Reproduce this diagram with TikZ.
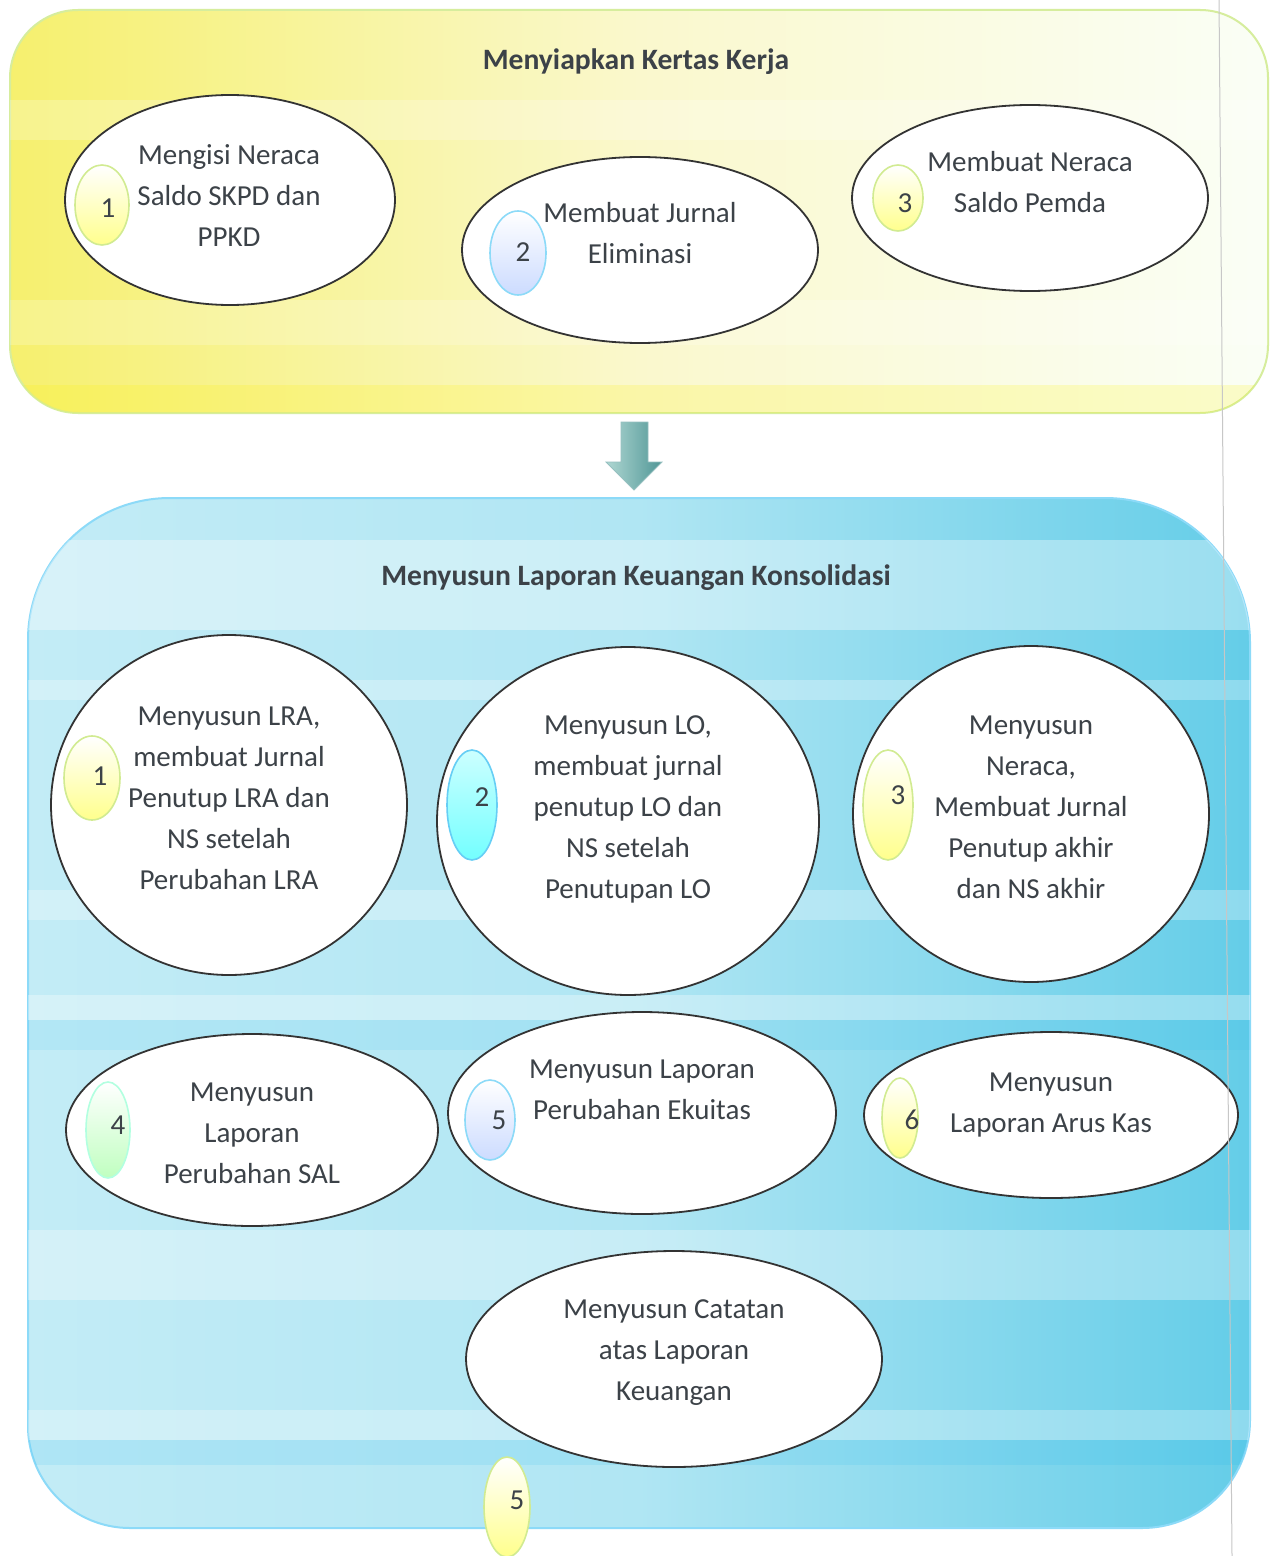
\documentclass[tikz,border=0pt]{standalone}
\usepackage{fontspec}
\setmainfont{Carlito}
\usetikzlibrary{shapes.geometric}
\definecolor{txt}{RGB}{60,66,72}
\definecolor{ylw}{RGB}{246,240,110}
\definecolor{ylwlight}{RGB}{250,248,205}
\definecolor{cyn}{RGB}{100,205,232}
\definecolor{cynlight}{RGB}{195,236,246}
\definecolor{arrowA}{RGB}{175,215,210}
\definecolor{arrowB}{RGB}{80,150,150}
\begin{document}
\begin{tikzpicture}[x=0.5pt,y=-0.5pt,
  every node/.style={text=txt},
  box/.style={ellipse, draw=black!80, line width=0.9pt, fill=white, inner sep=0pt},
  lbl/.style={align=center, font=\fontsize{14.5}{20.5}\selectfont},
  ttl/.style={font=\fontsize{14.8}{17}\selectfont\bfseries},
  num/.style={font=\fontsize{14.5}{17}\selectfont},
  badgeY/.style={ellipse, inner sep=0pt, draw=yellow!60!green!45, line width=0.8pt, top color=white, bottom color=yellow!45},
  badgeB/.style={ellipse, inner sep=0pt, draw=cyan!45, line width=0.8pt, top color=white, bottom color=cyan!30!blue!20},
  badgeC/.style={ellipse, inner sep=0pt, draw=cyan!60, line width=0.8pt, top color=cyan!20, bottom color=cyan!55},
  badgeG/.style={ellipse, inner sep=0pt, draw=green!40!cyan!30, line width=0.8pt, top color=white, bottom color=green!25}
]
\useasboundingbox (0,0) rectangle (1277,1556);
\fill[white] (0,0) rectangle (1277,1556);

% ---------- top panel ----------
\path[draw=yellow!60!green!40, line width=1pt, rounded corners=34pt,
      left color=ylw, right color=ylwlight!80!green!10, middle color=ylwlight]
  (10,10) rectangle (1268,413);
\begin{scope}
  \clip[rounded corners=34pt] (10,10) rectangle (1268,413);
  \fill[white, opacity=0.22] (10,100) rectangle (1268,140);
  \fill[white, opacity=0.20] (10,300) rectangle (1268,345);
  \fill[yellow, opacity=0.18] (10,385) rectangle (1268,413);
\end{scope}
\node[ttl] (toptitle) at (636,62) {Menyiapkan Kertas Kerja};

\node[box, minimum width=165pt, minimum height=105pt] (t1) at (230,200) {};
\node[box, minimum width=178pt, minimum height=93pt] (t2) at (640,250) {};
\node[box, minimum width=178pt, minimum height=93pt] (t3) at (1030,198) {};

\node[lbl] (t1l) at (229,196) {Mengisi Neraca\\Saldo SKPD dan\\PPKD};
\node[lbl] (t2l) at (640,233) {Membuat Jurnal\\Eliminasi};
\node[lbl] (t3l) at (1030,182) {Membuat Neraca\\Saldo Pemda};

\node[badgeY, minimum width=27pt, minimum height=40pt] (tb1) at (102,205) {};
\node[num] (tn1) at (108,208) {1};
\node[badgeB, minimum width=28pt, minimum height=42pt] (tb2) at (518,253) {};
\node[num] (tn2) at (523,252) {2};
\node[badgeY, minimum width=25pt, minimum height=33pt] (tb3) at (898,198) {};
\node[num] (tn3) at (905,203) {3};

% ---------- arrow ----------
\path[left color=arrowA, right color=arrowB, draw=arrowB!60, line width=0.4pt]
  (621,422) -- (648,422) -- (648,462) -- (662,462) -- (634,490) -- (606,462) -- (621,462) -- cycle;

% ---------- bottom panel ----------
\def\panelpath{(28,640) arc[start angle=180, end angle=270, x radius=142, y radius=142]
  -- (1105,498) arc[start angle=-90, end angle=0, x radius=145, y radius=145]
  -- (1250,1420) arc[start angle=0, end angle=90, x radius=108, y radius=108]
  -- (130,1528) arc[start angle=90, end angle=180, x radius=102, y radius=102] -- cycle}
\path[draw=cyan!45, line width=1pt, left color=cynlight, right color=cyn, middle color=cynlight!80!cyn]
  \panelpath;
\begin{scope}
  \clip \panelpath;
  \fill[white, opacity=0.35] (0,540) rectangle (1277,630);
  \fill[white, opacity=0.28] (0,680) rectangle (1277,700);
  \fill[white, opacity=0.28] (0,890) rectangle (1277,920);
  \fill[white, opacity=0.32] (0,995) rectangle (1277,1020);
  \fill[cyan, opacity=0.08] (0,1020) rectangle (1277,1050);
  \fill[white, opacity=0.30] (0,1230) rectangle (1277,1300);
  \fill[white, opacity=0.28] (0,1410) rectangle (1277,1440);
  \fill[cyan, opacity=0.10] (0,1440) rectangle (1277,1465);
\end{scope}
\node[ttl] (bottitle) at (636,578) {Menyusun Laporan Keuangan Konsolidasi};

\node[box, minimum width=178pt, minimum height=170pt] (c1) at (229,805) {};
\node[box, minimum width=191pt, minimum height=174pt] (c2) at (628,821) {};
\node[box, minimum width=178pt, minimum height=168pt] (c3) at (1031,814) {};
\node[box, minimum width=186pt, minimum height=96pt] (e4) at (252,1130) {};
\node[box, minimum width=194pt, minimum height=101pt] (e5) at (642,1113) {};
\node[box, minimum width=187pt, minimum height=83pt] (e6) at (1051,1115) {};
\node[box, minimum width=208pt, minimum height=108pt] (e7) at (674,1359) {};

\node[lbl] (c1l) at (229,798) {Menyusun LRA,\\membuat Jurnal\\Penutup LRA dan\\NS setelah\\Perubahan LRA};
\node[lbl] (c2l) at (628,809) {Menyusun LO,\\membuat jurnal\\penutup LO dan\\NS setelah\\Penutupan LO};
\node[lbl] (c3l) at (1031,807) {Menyusun\\Neraca,\\Membuat Jurnal\\Penutup akhir\\dan NS akhir};
\node[lbl] (e4l) at (252,1133) {Menyusun\\Laporan\\Perubahan SAL};
\node[lbl] (e5l) at (642,1090) {Menyusun Laporan\\Perubahan Ekuitas};
\node[lbl] (e6l) at (1051,1105) {Menyusun\\Laporan Arus Kas};
\node[lbl] (e7l) at (674,1353) {Menyusun Catatan\\atas Laporan\\Keuangan};

\node[badgeY, minimum width=28pt, minimum height=42pt] (cb1) at (92,778) {};
\node[num] (cn1) at (100,776) {1};
\node[badgeC, minimum width=25pt, minimum height=55pt] (cb2) at (472,805) {};
\node[num] (cn2) at (482,797) {2};
\node[badgeY, minimum width=25pt, minimum height=55pt] (cb3) at (888,805) {};
\node[num] (cn3) at (898,795) {3};
\node[badgeG, minimum width=22pt, minimum height=48pt] (eb4) at (108,1130) {};
\node[num] (en4) at (118,1125) {4};
\node[badgeB, minimum width=25pt, minimum height=40pt] (eb5) at (490,1120) {};
\node[num] (en5) at (499,1120) {5};
\node[badgeY, minimum width=18pt, minimum height=40pt] (eb6) at (900,1118) {};
\node[num] (en6) at (912,1120) {6};

\node[badgeY, minimum width=23pt, minimum height=50pt] (bb) at (507,1507) {};
\node[num] (bn) at (517,1500) {5};

% page crease
\draw[black!22, line width=0.5pt] (1219,0) -- (1232,1556);
\end{tikzpicture}
\end{document}
